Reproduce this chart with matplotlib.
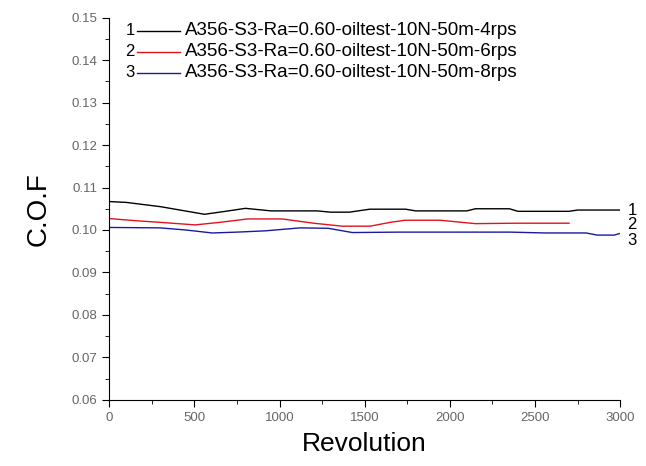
import numpy as np
import matplotlib.pyplot as plt
from matplotlib.ticker import MultipleLocator

plt.rcParams['font.family'] = ['Liberation Sans', 'DejaVu Sans']

# data
rev1 = [0, 100, 300, 560, 700, 800, 950, 1220, 1300, 1410, 1530, 1740, 1800, 2100, 2150, 2350, 2400, 2700, 2750, 3000]
cof1 = [0.1067, 0.1065, 0.1055, 0.1037, 0.1045, 0.1051, 0.1045, 0.1045, 0.1042, 0.1042, 0.1049, 0.1049, 0.1045, 0.1045, 0.1050, 0.1050, 0.1044, 0.1044, 0.1047, 0.1047]

rev2 = [0, 150, 300, 505, 650, 810, 1016, 1200, 1368, 1532, 1650, 1738, 1943, 2149, 2400, 2700]
cof2 = [0.1027, 0.1022, 0.1018, 0.1012, 0.1018, 0.1026, 0.1026, 0.1016, 0.1009, 0.1009, 0.1018, 0.1023, 0.1023, 0.1015, 0.1016, 0.1016]

rev3 = [0, 300, 450, 605, 750, 916, 1121, 1286, 1427, 1700, 2000, 2354, 2560, 2800, 2865, 2965, 3000]
cof3 = [0.1006, 0.1005, 0.1000, 0.0993, 0.0995, 0.0998, 0.1005, 0.1004, 0.0994, 0.0995, 0.0995, 0.0995, 0.0993, 0.0993, 0.0988, 0.0988, 0.0992]

labels = ['A356-S3-Ra=0.60-oiltest-10N-50m-4rps',
          'A356-S3-Ra=0.60-oiltest-10N-50m-6rps',
          'A356-S3-Ra=0.60-oiltest-10N-50m-8rps']
colors = ['black', '#e0141e', '#1a1aa0']
end_label_y = [0.1046, 0.1013, 0.0975]

fig = plt.figure(figsize=(6.46, 4.66), dpi=100)
ax = fig.add_axes([0.169, 0.142, 0.791, 0.82])

series = [(rev1, cof1), (rev2, cof2), (rev3, cof3)]
for i, (x, y) in enumerate(series):
    ax.plot(x, y, color=colors[i], linewidth=1.0)
    ax.text(3070, end_label_y[i], str(i + 1), fontsize=12, va='center', ha='center',
            clip_on=False)

# legend drawn by hand: number, short line, text
for i in range(3):
    yy = 0.966 - i * 0.055
    ax.text(0.041, yy, str(i + 1), transform=ax.transAxes, fontsize=12, va='center', ha='center')
    ax.plot([0.055, 0.138], [yy, yy], transform=ax.transAxes, color=colors[i], linewidth=1.0)
    ax.text(0.148, yy, labels[i], transform=ax.transAxes, fontsize=13.5, va='center', ha='left')

ax.set_xlim(0, 3000)
ax.set_ylim(0.06, 0.15)
ax.xaxis.set_major_locator(MultipleLocator(500))
ax.xaxis.set_minor_locator(MultipleLocator(250))
ax.yaxis.set_major_locator(MultipleLocator(0.01))
ax.yaxis.set_minor_locator(MultipleLocator(0.005))
ax.xaxis.set_major_formatter(plt.FuncFormatter(lambda v, p: '%d' % v))
ax.yaxis.set_major_formatter(plt.FuncFormatter(lambda v, p: '%.2f' % v))
ax.tick_params(which='both', direction='out', labelsize=9.5, labelcolor='#666666')
ax.tick_params(which='major', length=5)
ax.tick_params(which='minor', length=3)
ax.spines['top'].set_visible(False)
ax.spines['right'].set_visible(False)

ax.set_xlabel('Revolution', fontsize=19, labelpad=6)
ax.set_ylabel('C.O.F', fontsize=20, labelpad=14)

fig.savefig('out.png', dpi=100)
